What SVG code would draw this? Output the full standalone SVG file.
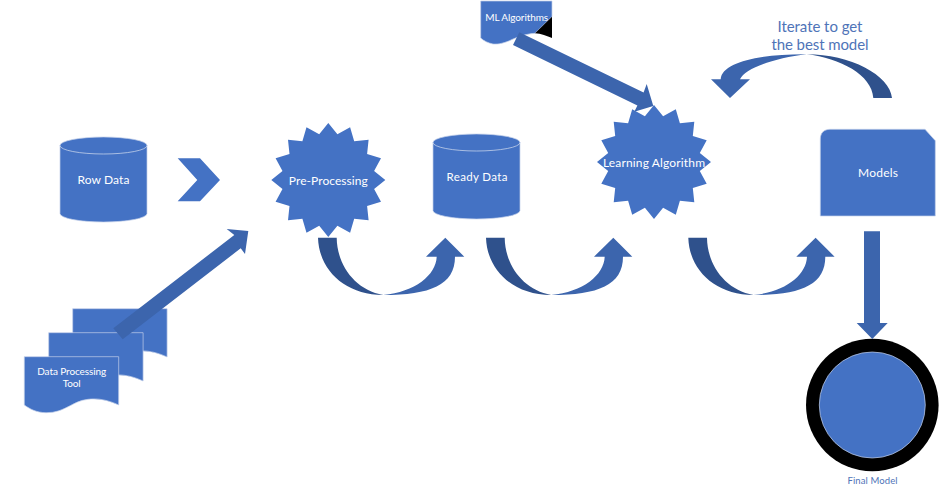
<svg xmlns="http://www.w3.org/2000/svg" width="940" height="493" viewBox="0 0 940 493">
<style>
.n{fill:#4472c4;stroke:#c3d0ea;stroke-width:.7}
.l{fill:none;stroke:#c3d0ea;stroke-width:.8}
.a{fill:#3c65ad}
.d{fill:#2f518c}
.t{font-family:"Lato","Liberation Sans",sans-serif;text-anchor:middle;fill:#fff}
.c{fill:#4f74b8}
</style>
<defs>
<polygon id="star" points="0,-57 9.1,-45.8 21.8,-52.7 25.9,-38.8 40.3,-40.3 38.8,-25.9 52.7,-21.8 45.8,-9.1 57,0 45.8,9.1 52.7,21.8 38.8,25.9 40.3,40.3 25.9,38.8 21.8,52.7 9.1,45.8 0,57 -9.1,45.8 -21.8,52.7 -25.9,38.8 -40.3,40.3 -38.8,25.9 -52.7,21.8 -45.8,9.1 -57,0 -45.8,-9.1 -52.7,-21.8 -38.8,-25.9 -40.3,-40.3 -25.9,-38.8 -21.8,-52.7 -9.1,-45.8"/>
<path id="cyl" d="M0,8.5A43.5,8.5 0 0 1 87,8.5V76.5A43.5,8.5 0 0 1 0,76.5Z"/>
<path id="cylTop" d="M0,8.5A43.5,8.5 0 0 0 87,8.5"/>
<path id="doc" d="M24.3,356.7H118.7V405C108,400 98,398 88,399.3C72,401 65,413 46,412.7C36,412.5 30,409 24.3,405Z"/>
<g id="uturn">
<path class="d" d="M318,237.7C319,270 345,295 383.3,295C355,290 337,265 336.7,237.7Z"/>
<path class="a" d="M383.3,295C430,295 455,285 455,256.7H464.3L445.3,237.7L426,256.7H436.7C436,275 415,292 383.3,295Z"/>
</g>
</defs>
<rect width="940" height="493" fill="#fff"/>
<g id="row-data">
<use href="#cyl" class="n" transform="translate(60,137)"/>
<use href="#cylTop" class="l" transform="translate(60,137)"/>
<text class="t" x="103.5" y="184.2" font-size="12" textLength="52">Row Data</text>
</g>
<g id="chevron">
<polygon class="n" style="stroke:none" points="177.7,158.3 200,158.3 220,180 200,201.3 177.7,201.3 197.3,180"/>
</g>
<g id="data-processing-tool">
<use href="#doc" class="n" transform="translate(48.4,-48)"/>
<use href="#doc" class="n" transform="translate(24.4,-24)"/>
<use href="#doc" class="n"/>
<text class="t" x="71.7" y="375" font-size="10" textLength="69">Data Processing</text>
<text class="t" x="71.7" y="387" font-size="10" textLength="18">Tool</text>
</g>
<g id="pre-processing">
<use href="#star" class="n" style="stroke:none" transform="translate(328.3,180)"/>
<text class="t" x="328.3" y="184.5" font-size="12" textLength="79">Pre-Processing</text>
</g>
<g id="ready-data">
<use href="#cyl" class="n" transform="translate(433,134)"/>
<use href="#cylTop" class="l" transform="translate(433,134)"/>
<text class="t" x="477" y="181" font-size="11.5" textLength="61">Ready Data</text>
</g>
<g id="learning-algorithm">
<use href="#star" class="n" style="stroke:none" transform="translate(654,162)"/>
<text class="t" x="654" y="166.5" font-size="12" textLength="102">Learning Algorithm</text>
</g>
<g id="ml-algorithms">
<path class="n" d="M480.7,1H552V16.7L535,33.3C525,34 518,37 512,39.5C505,43 498,44.5 493,44C488,43 484,41 480.7,38Z"/>
<path fill="#000" d="M552,16.7V38C547,36 541,33.7 535,33.3Z"/>
<text class="t" x="516.7" y="20.5" font-size="10" textLength="63">ML Algorithms</text>
</g>
<g id="models">
<path class="n" d="M830,129.3H925L935.3,140.7V216H820.3V139C820.3,133 824,129.3 830,129.3Z"/>
<text class="t" x="878" y="177.3" font-size="12" textLength="40">Models</text>
</g>
<g id="final-model">
<circle cx="872.3" cy="405" r="66.3" fill="#000"/>
<circle class="n" cx="872.3" cy="405" r="53"/>
<text class="t c" x="872.5" y="484" font-size="9.5" textLength="50">Final Model</text>
</g>
<g id="connectors">
<polygon class="a" points="113.3,328.3 234.3,235 226.7,229 248.3,231 245,254 240.7,248.3 122.7,339.3"/>
<polygon class="a" points="519.3,32.3 643.6,92.6 646.7,84 653.3,106 634.3,111.7 637.4,105.4 513,45"/>
<use href="#uturn"/>
<use href="#uturn" transform="translate(168,0)"/>
<use href="#uturn" transform="translate(370.3,0)"/>
<path class="d" d="M892,98C890,75 850,54.3 806.7,54.3C840,58 872,75 873.3,98Z"/>
<path class="a" d="M806.7,54.3C760,54 722,62 720.7,79.3H711L730,98L750,79.3H740C745,68 775,58 806.7,54.3Z"/>
<polygon class="a" points="864,231.3 880,231.3 880,323 887.7,323 872.3,339 856.7,323 864,323"/>
</g>
<g id="iterate-label">
<text class="t c" x="820" y="32" font-size="15" textLength="85">Iterate to get</text>
<text class="t c" x="820" y="50" font-size="15" textLength="97">the best model</text>
</g>
</svg>
